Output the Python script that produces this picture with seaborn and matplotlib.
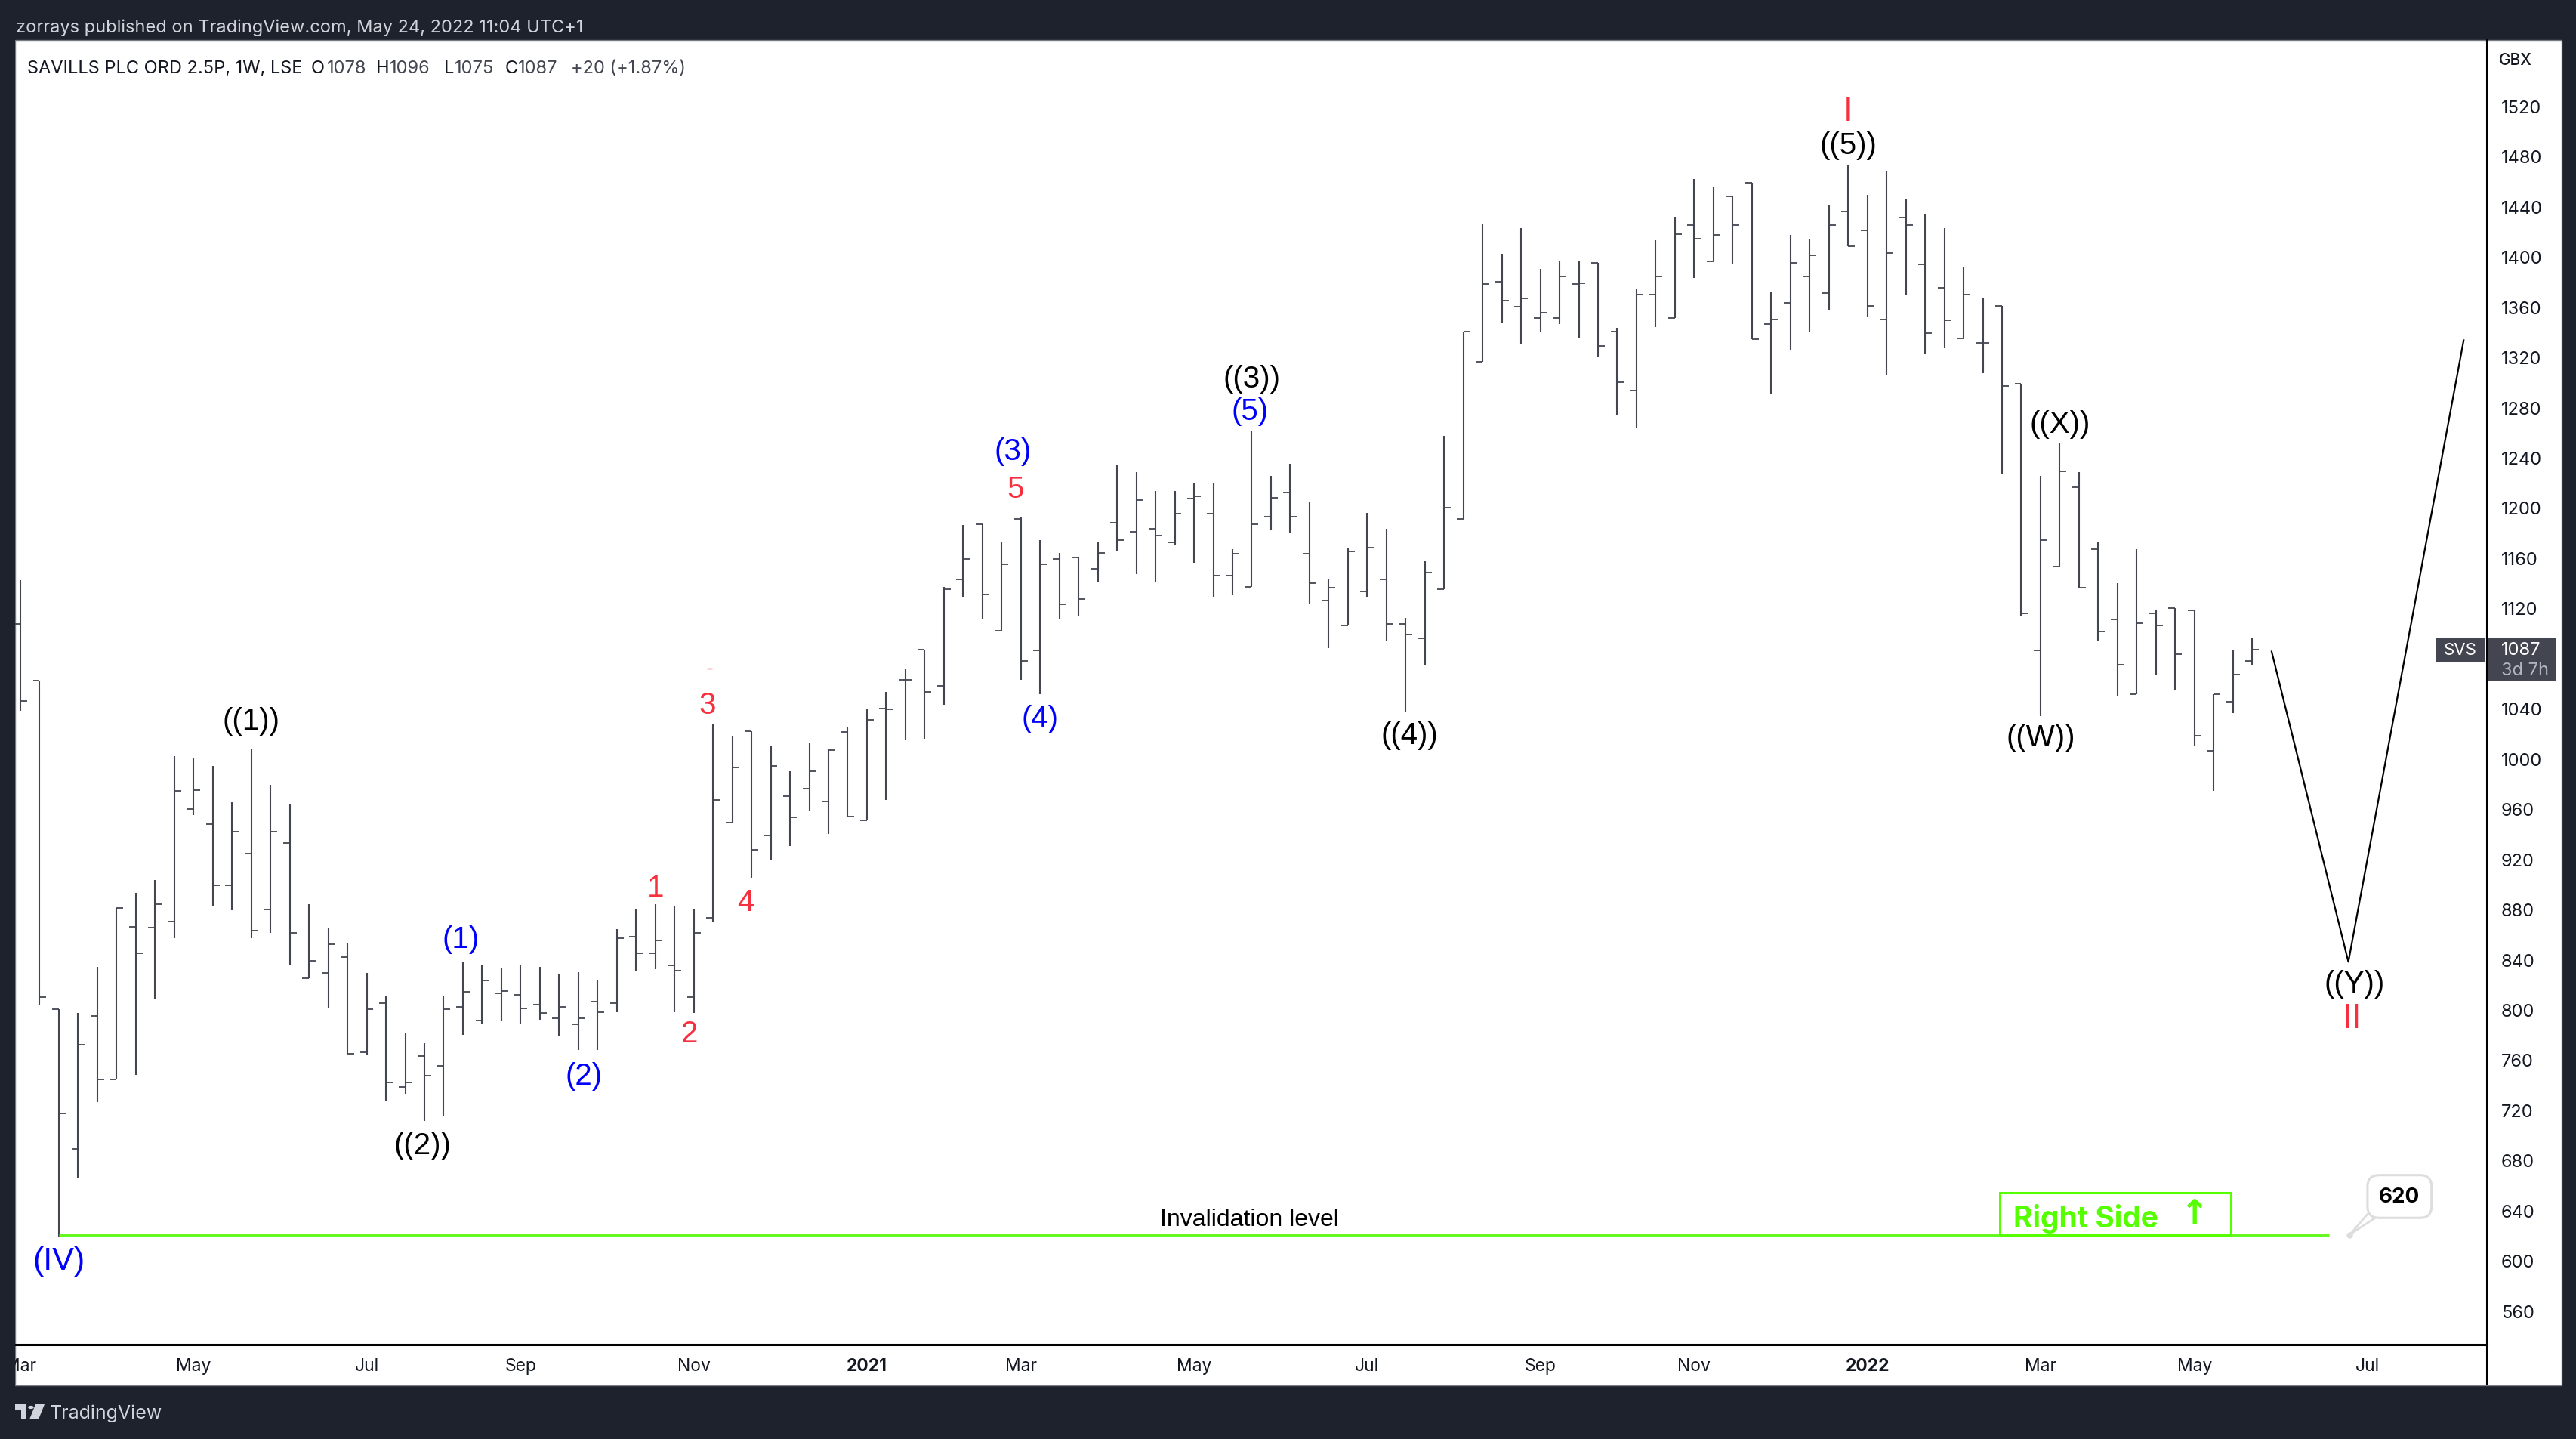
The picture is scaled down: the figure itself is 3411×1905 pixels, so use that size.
import pandas as pd
import seaborn as sns
import matplotlib.pyplot as plt
from matplotlib.patches import Rectangle, Polygon, Circle

# weekly bars
opens = [1107, 1062, 800, 689, 795, 744, 866, 865, 870, 960, 948, 899, 924, 880, 933, 825, 829, 842, 766, 805,
         738, 763, 755, 802, 791, 813, 812, 804, 793, 788, 806, 805, 858, 845, 835, 810, 873, 949, 1022, 939,
         970, 976, 966, 1021, 951, 1040, 1063, 1087, 1058, 1143, 1187, 1102, 1191, 1086, 1159, 1160, 1151, 1188, 1181, 1183,
         1172, 1207, 1195, 1146, 1137, 1193, 1212, 1163, 1126, 1106, 1133, 1143, 1107, 1096, 1135, 1191, 1316, 1380, 1360, 1351,
         1351, 1378, 1395, 1340, 1293, 1370, 1351, 1425, 1396, 1448, 1459, 1346, 1363, 1384, 1371, 1436, 1421, 1350, 1431, 1394,
         1375, 1335, 1331, 1361, 1299, 1086, 1153, 1216, 1167, 1111, 1051, 1116, 1120, 1118, 1006, 1045, 1078]
highs = [1142, 1062, 800, 797, 834, 881, 893, 903, 1002, 1000, 994, 965, 1008, 979, 964, 884, 865, 853, 829, 811,
         781, 773, 811, 838, 835, 833, 835, 834, 828, 830, 824, 864, 880, 884, 883, 880, 1027, 1018, 1022, 1010,
         990, 1012, 1008, 1025, 1039, 1053, 1072, 1087, 1137, 1186, 1187, 1172, 1193, 1174, 1164, 1160, 1172, 1234, 1228, 1213,
         1213, 1220, 1220, 1167, 1261, 1225, 1235, 1204, 1143, 1168, 1196, 1183, 1112, 1157, 1257, 1340, 1426, 1402, 1423, 1390,
         1396, 1396, 1395, 1343, 1374, 1413, 1432, 1462, 1455, 1448, 1459, 1372, 1417, 1414, 1441, 1473, 1449, 1468, 1446, 1434,
         1423, 1392, 1367, 1361, 1299, 1225, 1252, 1228, 1172, 1140, 1167, 1119, 1120, 1118, 1051, 1086, 1096]
lows = [1038, 804, 619, 666, 726, 744, 748, 809, 857, 955, 883, 879, 857, 861, 836, 825, 801, 765, 764, 727,
        733, 711, 715, 780, 789, 791, 788, 792, 779, 768, 768, 798, 831, 832, 798, 797, 870, 949, 905, 919,
        930, 958, 940, 954, 951, 967, 1015, 1016, 1043, 1129, 1111, 1102, 1063, 1051, 1111, 1114, 1141, 1165, 1147, 1141,
        1170, 1156, 1129, 1130, 1137, 1182, 1180, 1123, 1088, 1106, 1129, 1094, 1037, 1075, 1135, 1191, 1316, 1347, 1330, 1340,
        1346, 1335, 1320, 1274, 1263, 1344, 1351, 1383, 1396, 1394, 1334, 1291, 1325, 1340, 1357, 1408, 1352, 1306, 1369, 1322,
        1327, 1335, 1307, 1227, 1114, 1034, 1153, 1136, 1094, 1050, 1051, 1067, 1055, 1010, 974, 1036, 1075]
closes = [1046, 810, 717, 772, 744, 881, 845, 884, 974, 975, 899, 942, 863, 942, 861, 839, 852, 765, 800, 742,
          742, 747, 800, 814, 823, 815, 801, 797, 802, 793, 798, 857, 845, 855, 831, 861, 967, 993, 927, 994,
          953, 990, 1007, 954, 1031, 1039, 1063, 1053, 1135, 1159, 1131, 1155, 1078, 1155, 1123, 1127, 1164, 1174, 1206, 1178,
          1195, 1209, 1146, 1163, 1187, 1208, 1193, 1140, 1136, 1165, 1168, 1107, 1099, 1148, 1200, 1340, 1378, 1365, 1367, 1355,
          1384, 1379, 1329, 1300, 1370, 1384, 1418, 1414, 1417, 1425, 1334, 1350, 1395, 1401, 1425, 1408, 1361, 1403, 1425, 1339,
          1349, 1370, 1331, 1297, 1116, 1174, 1229, 1136, 1101, 1075, 1108, 1106, 1083, 1018, 1051, 1067, 1087]

price_ticks = [560, 600, 640, 680, 720, 760, 800, 840, 880, 920, 960, 1000, 1040, 1120, 1160, 1200,
               1240, 1280, 1320, 1360, 1400, 1440, 1480, 1520]
time_ticks = [0, 9, 18, 26, 35, 44, 52, 61, 70, 79, 87, 96, 105, 113, 122]
time_labels = ['Mar', 'May', 'Jul', 'Sep', 'Nov', '2021', 'Mar', 'May', 'Jul', 'Sep', 'Nov', '2022', 'Mar', 'May', 'Jul']

projection_x = [117, 121, 127]
projection_y = [1086, 838, 1334]
invalidation_price = 620

# text, week, price, colour, size
wave_labels = [
    ('I', 95.0, 1516, 'red', 33), ('((5))', 95.0, 1489, 'black', 29),
    ('((3))', 64.0, 1303, 'black', 29), ('(5)', 63.9, 1277, 'blue', 29),
    ('(3)', 51.6, 1245, 'blue', 29), ('5', 51.7, 1215, 'red', 29),
    ('((X))', 106.0, 1267, 'black', 29), ('((W))', 105.0, 1017, 'black', 29),
    ('((4))', 72.2, 1019, 'black', 29), ('(4)', 53.0, 1032, 'blue', 29),
    ('3', 35.7, 1043, 'red', 29), ('((1))', 12.0, 1030, 'black', 29),
    ('1', 33.0, 897, 'red', 29), ('4', 37.7, 886, 'red', 29),
    ('(1)', 22.9, 856, 'blue', 29), ('2', 34.8, 781, 'red', 29),
    ('(2)', 29.3, 747, 'blue', 29), ('((2))', 20.9, 692, 'black', 29),
    ('((Y))', 121.3, 821, 'black', 29), ('II', 121.2, 793, 'red', 33),
    ('(IV)', 2.0, 600, 'blue', 31),
]

DARK = '#1e222d'
BAR = '#434651'
GREEN = '#55ff00'
colors = {'red': '#f7303f', 'blue': '#0000ff', 'black': '#000000'}
W, H = 3412, 1906


def fx(x):
    return x / W


def fy(y):
    return 1 - y / H


def px_rect(x0, y0, x1, y1, **kw):
    """ pixel box (top left origin) on the figure """
    fig.add_artist(Rectangle((fx(x0), fy(y1)), (x1 - x0) / W, (y1 - y0) / H, transform=fig.transFigure, **kw))


def px_text(x, y, s, **kw):
    kw.setdefault('va', 'center')
    kw.setdefault('fontsize', 17)
    fig.text(fx(x), fy(y), s, **kw)


sns.set_theme(style='white')
plt.rcParams['font.family'] = ['Inter', 'DejaVu Sans']
plt.rcParams['lines.solid_capstyle'] = 'butt'

fig = plt.figure(figsize=(W / 100, H / 100), dpi=100, facecolor=DARK)
px_rect(20, 54, 3392, 1835, facecolor='white', edgecolor='#787b86', linewidth=1, zorder=-1)
ax = fig.add_axes([fx(20), fy(1781), (3293 - 20) / W, (1781 - 54) / H], facecolor='none')

# long tables for seaborn: one unit per stem / tick
weeks = range(len(opens))
stems = pd.DataFrame({
    'x': [w for w in weeks for _ in range(2)],
    'price': [p for w in weeks for p in (highs[w], lows[w])],
    'unit': [w for w in weeks for _ in range(2)],
})
ticks_rows = []
for w in weeks:
    ticks_rows += [(w - 0.35, opens[w], 'o%d' % w), (w, opens[w], 'o%d' % w)]
    ticks_rows += [(w, closes[w], 'c%d' % w), (w + 0.35, closes[w], 'c%d' % w)]
ticks = pd.DataFrame(ticks_rows, columns=['x', 'price', 'unit'])

sns.lineplot(data=stems, x='x', y='price', units='unit', estimator=None, sort=False,
             color=BAR, linewidth=1.5, legend=False, ax=ax)
sns.lineplot(data=ticks, x='x', y='price', units='unit', estimator=None, sort=False,
             color=BAR, linewidth=1.3, legend=False, ax=ax)
sns.lineplot(x=projection_x, y=projection_y, sort=False, color='black', linewidth=1.6, ax=ax)
sns.lineplot(x=[2, 120], y=[invalidation_price, invalidation_price], color='#62f81a', linewidth=2.1, ax=ax)

ax.set_xlim(-0.275, 128.2)
ax.set_ylim(533, 1572.6)
ax.set_xlabel('')
ax.set_ylabel('')
ax.set_xticks(time_ticks)
ax.set_xticklabels(time_labels)
ax.set_yticks(price_ticks)
ax.yaxis.tick_right()
ax.tick_params(axis='y', length=0, pad=13.7, labelsize=17, labelcolor='#131722')
ax.tick_params(axis='x', length=0, pad=12, labelsize=16.5, labelcolor='#131722')
for lab in ax.get_xticklabels():
    if lab.get_text() in ('2021', '2022'):
        lab.set_fontweight('bold')
ax.spines['top'].set_visible(False)
ax.spines['left'].set_visible(False)
ax.spines['bottom'].set_color('black')
ax.spines['bottom'].set_linewidth(2.2)
ax.spines['right'].set_color('black')
ax.spines['right'].set_linewidth(1.5)

for text, x, y, col, size in wave_labels:
    ax.text(x, y, text, color=colors[col], fontsize=size, family='Liberation Sans', ha='center', va='center')
ax.text(63.9, 633, 'Invalidation level', color='black', fontsize=23, family='Liberation Sans', ha='center', va='center')
# stray red dash above the 3
ax.plot([35.7, 35.95], [1072, 1072], color=colors['red'], linewidth=1)

# Right Side box
ax.add_patch(Rectangle((102.9, invalidation_price), 12, 34, facecolor='white', edgecolor=GREEN, linewidth=2.2, zorder=3))
ax.text(103.6, 634, 'Right Side', color=GREEN, fontsize=28, fontweight='bold', ha='left', va='center', zorder=4)
ax.text(113, 637, '↑', color=GREEN, fontsize=33, fontweight='bold', family='DejaVu Sans', ha='center', va='center', zorder=4)

# 620 callout
ax.add_patch(Polygon([(121.1, 621), (122.0, 637), (122.7, 637)], closed=True, facecolor='white',
                     edgecolor='#dddddd', linewidth=2, zorder=3))
ax.plot([121.04], [620], 'o', color='#dddddd', markersize=5, zorder=3)
ax.text(123.66, 651, '620', color='black', fontsize=20, fontweight='bold', ha='center', va='center', zorder=5,
        bbox=dict(boxstyle='round,pad=0.55', facecolor='white', edgecolor='#dddddd', linewidth=2.2))

# things outside the axes
fig.add_artist(plt.Line2D([fx(3293), fx(3293)], [fy(1781), fy(1835)], color='black', linewidth=1.5))
px_rect(0, 0, 20, H, facecolor=DARK, edgecolor='none', zorder=5)
px_rect(3226, 845, 3290, 877, facecolor=BAR, edgecolor='none', zorder=6)
px_rect(3295, 845, 3384, 903, facecolor=BAR, edgecolor='none', zorder=6)
px_text(3258, 861, 'SVS', color='white', ha='center', fontsize=16, zorder=7)
px_text(3312, 861, '1087', color='white', zorder=7)
px_text(3312, 888, '3d 7h', color='#b2b5be', zorder=7)
px_text(3309, 80, 'GBX', color='#131722', fontsize=15, fontweight='medium')

px_text(21, 37, 'zorrays published on TradingView.com, May 24, 2022 11:04 UTC+1', color='#d1d4dc', fontsize=17)
px_text(36, 91, 'SAVILLS PLC ORD 2.5P, 1W, LSE', color='#131722', fontsize=17)
for x, s in [(412, 'O'), (498, 'H'), (588, 'L'), (669, 'C')]:
    px_text(x, 91, s, color='#131722', fontsize=17)
for x, s in [(433, '1078'), (516, '1096'), (602, '1075'), (686, '1087'), (756, '+20 (+1.87%)')]:
    px_text(x, 91, s, color=BAR, fontsize=17)

# footer logo
fig.add_artist(Polygon([(fx(20), fy(1860)), (fx(35), fy(1860)), (fx(35), fy(1880)), (fx(28), fy(1880)), (fx(28), fy(1867)), (fx(20), fy(1867))],
                       closed=True, transform=fig.transFigure, facecolor='#d1d4dc', edgecolor='none'))
fig.add_artist(Polygon([(fx(47), fy(1860)), (fx(59), fy(1860)), (fx(51), fy(1880)), (fx(39), fy(1880))],
                       closed=True, transform=fig.transFigure, facecolor='#d1d4dc', edgecolor='none'))
fig.add_artist(Circle((fx(41), fy(1864)), 3.8 / W, transform=fig.transFigure, facecolor='#d1d4dc', edgecolor='none'))
px_text(66, 1871, 'TradingView', color='#d1d4dc', fontsize=18)

fig.savefig('out.png', dpi=100, facecolor=DARK)
